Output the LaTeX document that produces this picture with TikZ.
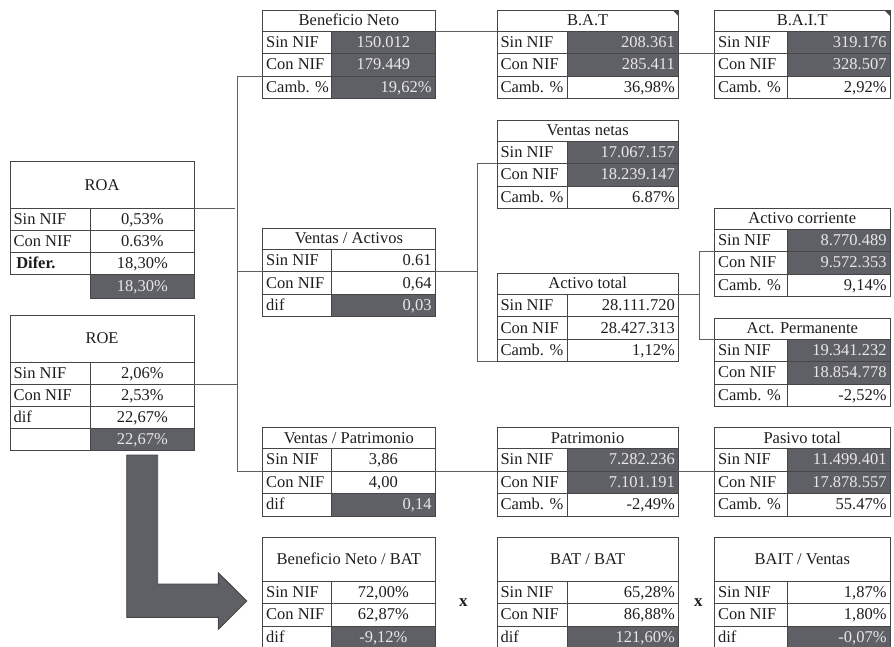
\documentclass[tikz,border=0pt]{standalone}
\usepackage{fontspec}
\setmainfont{Liberation Serif}
\usetikzlibrary{calc}
\definecolor{dk}{RGB}{95,96,101}
\definecolor{bordc}{RGB}{70,70,70}
\definecolor{txt}{RGB}{30,30,30}
\definecolor{lt}{RGB}{232,232,232}
\definecolor{lnc}{RGB}{95,95,95}
\def\Aa{262.7}\def\Ad{331.7}\def\Ab{435}
\def\Ba{497}\def\Bd{567}\def\Bb{678.3}
\def\Ca{714.5}\def\Cd{787}\def\Cb{890}
\newcommand\ttitle[6]{%
 \pgfmathsetmacro\tkzW{#3-#2}\pgfmathsetmacro\tkzT{#3-#2-7}%
 \node[tcell,ctr,minimum width=\tkzW pt,text width=\tkzT pt,minimum height=#5pt,anchor=north west] (#1) at (#2,#4) {#6};}
\newcommand\trow[9]{%
 \pgfmathsetmacro\tkzWa{#3-#2}\pgfmathsetmacro\tkzTa{#3-#2-7}%
 \pgfmathsetmacro\tkzWb{#4-#3}\pgfmathsetmacro\tkzTb{#4-#3-7}%
 \node[tcell,lft,minimum width=\tkzWa pt,text width=\tkzTa pt,minimum height=#6pt,anchor=north west] (#1l) at (#2,#5) {\mbox{#7}};
 \node[tcell,#8,minimum width=\tkzWb pt,text width=\tkzTb pt,minimum height=#6pt,anchor=north west] (#1v) at (#3,#5) {#9};}
\tikzset{
 tcell/.style={draw=bordc,line width=0.9pt,inner xsep=3.5pt,inner ysep=0pt,outer sep=0pt,text=txt,text height=12.5pt,text depth=2.5pt},
 lft/.style={align=flush left},
 rgt/.style={align=flush right},
 ctr/.style={align=flush center},
 dkr/.style={fill=dk,text=lt,align=flush right},
 dkc/.style={fill=dk,text=lt,align=flush center},
 conn/.style={draw=lnc,line width=0.9pt},
 bigarrow/.style={fill=dk,draw=bordc,line width=0.9pt},
 xmark/.style={font=\bfseries\fontsize{17}{20}\selectfont,text=txt}
}
\begin{document}
\begin{tikzpicture}[x=1pt,y=-1pt,font=\fontsize{16.5}{19}\selectfont]
\useasboundingbox (0,0) rectangle (894,646);
\clip (0,0) rectangle (894,646);
\fill[white] (0,0) rectangle (894,646);
% ROA
\ttitle{roat}{10}{194}{161.7}{46.6}{ROA}
\trow{roa1}{10}{90.7}{194}{208.3}{22}{Sin NIF}{ctr}{0,53\%}
\trow{roa2}{10}{90.7}{194}{230.3}{22}{Con NIF}{ctr}{0.63\%}
\trow{roa3}{10}{90.7}{194}{252.3}{22}{\textbf{\,Difer.}}{ctr}{18,30\%}
\node[tcell,dkc,minimum width=103.3pt,text width=96.3pt,minimum height=24.4pt,anchor=north west] (roa4v) at (90.7,274.3) {18,30\%};
% ROE
\ttitle{roet}{10}{194}{315.7}{46.3}{ROE}
\trow{roe1}{10}{90.7}{194}{362}{22}{Sin NIF}{ctr}{2,06\%}
\trow{roe2}{10}{90.7}{194}{384}{22}{Con NIF}{ctr}{2,53\%}
\trow{roe3}{10}{90.7}{194}{406}{22}{dif}{ctr}{22,67\%}
\trow{roe4}{10}{90.7}{194}{428}{22}{}{dkc}{22,67\%}
% Beneficio Neto
\ttitle{bnt}{\Aa}{\Ab}{10}{21}{Beneficio Neto}
\trow{bn1}{\Aa}{\Ad}{\Ab}{31}{22.5}{Sin NIF}{dkc}{150.012}
\trow{bn2}{\Aa}{\Ad}{\Ab}{53.5}{22.5}{Con NIF}{dkc}{179.449}
\trow{bn3}{\Aa}{\Ad}{\Ab}{76}{22.5}{Camb. \%}{dkr}{19,62\%}
% B.A.T
\ttitle{batt}{\Ba}{\Bb}{10}{21}{B.A.T}
\trow{bat1}{\Ba}{\Bd}{\Bb}{31}{22.5}{Sin NIF}{dkr}{208.361}
\trow{bat2}{\Ba}{\Bd}{\Bb}{53.5}{22.5}{Con NIF}{dkr}{285.411}
\trow{bat3}{\Ba}{\Bd}{\Bb}{76}{22.5}{Camb. \%}{rgt}{36,98\%}
% B.A.I.T
\ttitle{baitt}{\Ca}{\Cb}{10}{21}{B.A.I.T}
\trow{bait1}{\Ca}{\Cd}{\Cb}{31}{22.5}{Sin NIF}{dkr}{319.176}
\trow{bait2}{\Ca}{\Cd}{\Cb}{53.5}{22.5}{Con NIF}{dkr}{328.507}
\trow{bait3}{\Ca}{\Cd}{\Cb}{76}{22.5}{Camb. \%}{rgt}{2,92\%}
% Ventas netas
\ttitle{vnt}{\Ba}{\Bb}{120}{21}{Ventas netas}
\trow{vn1}{\Ba}{\Bd}{\Bb}{141}{22.5}{Sin NIF}{dkr}{17.067.157}
\trow{vn2}{\Ba}{\Bd}{\Bb}{163.5}{22.5}{Con NIF}{dkr}{18.239.147}
\trow{vn3}{\Ba}{\Bd}{\Bb}{186}{22.5}{Camb. \%}{rgt}{6.87\%}
% Ventas / Activos
\ttitle{vat}{\Aa}{\Ab}{228.3}{21}{Ventas / Activos}
\trow{va1}{\Aa}{\Ad}{\Ab}{249.3}{22.5}{Sin NIF}{rgt}{0.61}
\trow{va2}{\Aa}{\Ad}{\Ab}{271.8}{22.5}{Con NIF}{rgt}{0,64}
\trow{va3}{\Aa}{\Ad}{\Ab}{294.3}{22.5}{dif}{dkr}{0,03}
% Activo total
\ttitle{att}{\Ba}{\Bb}{273.3}{21}{Activo total}
\trow{at1}{\Ba}{\Bd}{\Bb}{294.3}{22.5}{Sin NIF}{rgt}{28.111.720}
\trow{at2}{\Ba}{\Bd}{\Bb}{316.8}{22.5}{Con NIF}{rgt}{28.427.313}
\trow{at3}{\Ba}{\Bd}{\Bb}{339.3}{22.5}{Camb. \%}{rgt}{1,12\%}
% Activo corriente
\ttitle{act}{\Ca}{\Cb}{208}{21}{Activo corriente}
\trow{ac1}{\Ca}{\Cd}{\Cb}{229}{22.5}{Sin NIF}{dkr}{8.770.489}
\trow{ac2}{\Ca}{\Cd}{\Cb}{251.5}{22.5}{Con NIF}{dkr}{9.572.353}
\trow{ac3}{\Ca}{\Cd}{\Cb}{274}{22.5}{Camb. \%}{rgt}{9,14\%}
% Act. Permanente
\ttitle{apt}{\Ca}{\Cb}{318}{21}{Act. Permanente}
\trow{ap1}{\Ca}{\Cd}{\Cb}{339}{22.5}{Sin NIF}{dkr}{19.341.232}
\trow{ap2}{\Ca}{\Cd}{\Cb}{361.5}{22.5}{Con NIF}{dkr}{18.854.778}
\trow{ap3}{\Ca}{\Cd}{\Cb}{384}{22.5}{Camb. \%}{rgt}{-2,52\%}
% Ventas / Patrimonio
\ttitle{vpt}{\Aa}{\Ab}{427.5}{21}{Ventas / Patrimonio}
\trow{vp1}{\Aa}{\Ad}{\Ab}{448.5}{22.5}{Sin NIF}{ctr}{3,86}
\trow{vp2}{\Aa}{\Ad}{\Ab}{471}{22.5}{Con NIF}{ctr}{4,00}
\trow{vp3}{\Aa}{\Ad}{\Ab}{493.5}{22.5}{dif}{dkr}{0,14}
% Patrimonio
\ttitle{pat}{\Ba}{\Bb}{427.5}{21}{Patrimonio}
\trow{pa1}{\Ba}{\Bd}{\Bb}{448.5}{22.5}{Sin NIF}{dkr}{7.282.236}
\trow{pa2}{\Ba}{\Bd}{\Bb}{471}{22.5}{Con NIF}{dkr}{7.101.191}
\trow{pa3}{\Ba}{\Bd}{\Bb}{493.5}{22.5}{Camb. \%}{rgt}{-2,49\%}
% Pasivo total
\ttitle{ptt}{\Ca}{\Cb}{427.5}{21}{Pasivo total}
\trow{pt1}{\Ca}{\Cd}{\Cb}{448.5}{22.5}{Sin NIF}{dkr}{11.499.401}
\trow{pt2}{\Ca}{\Cd}{\Cb}{471}{22.5}{Con NIF}{dkr}{17.878.557}
\trow{pt3}{\Ca}{\Cd}{\Cb}{493.5}{22.5}{Camb. \%}{rgt}{55.47\%}
% Beneficio Neto / BAT
\ttitle{bbt}{\Aa}{\Ab}{537}{44}{Beneficio Neto / BAT}
\trow{bb1}{\Aa}{\Ad}{\Ab}{581}{22.5}{Sin NIF}{ctr}{72,00\%}
\trow{bb2}{\Aa}{\Ad}{\Ab}{603.5}{22.5}{Con NIF}{ctr}{62,87\%}
\trow{bb3}{\Aa}{\Ad}{\Ab}{626}{22.5}{dif}{dkc}{-9,12\%}
% BAT / BAT
\ttitle{bbbt}{\Ba}{\Bb}{537}{44}{BAT / BAT}
\trow{bbb1}{\Ba}{\Bd}{\Bb}{581}{22.5}{Sin NIF}{rgt}{65,28\%}
\trow{bbb2}{\Ba}{\Bd}{\Bb}{603.5}{22.5}{Con NIF}{rgt}{86,88\%}
\trow{bbb3}{\Ba}{\Bd}{\Bb}{626}{22.5}{dif}{dkr}{121,60\%}
% BAIT / Ventas
\ttitle{bvt}{\Ca}{\Cb}{537}{44}{BAIT / Ventas}
\trow{bv1}{\Ca}{\Cd}{\Cb}{581}{22.5}{Sin NIF}{rgt}{1,87\%}
\trow{bv2}{\Ca}{\Cd}{\Cb}{603.5}{22.5}{Con NIF}{rgt}{1,80\%}
\trow{bv3}{\Ca}{\Cd}{\Cb}{626}{22.5}{dif}{dkr}{-0,07\%}
% multiplication marks
\node[xmark] (x1) at (463.3,603) {x};
\node[xmark] (x2) at (698.3,603) {x};
% corner markers
\fill[bordc] (batt.north east) -- ++(-6,0) -- ++(6,6) -- cycle;
\fill[bordc] (baitt.north east) -- ++(-6,0) -- ++(6,6) -- cycle;
% connectors
\coordinate (tk) at (237.7,0);
\coordinate (tkb) at (477.5,0);
\coordinate (tkc) at (699,0);
\coordinate (roaend) at ($(roat.south east)+(41,0)$);
\draw[conn] (roat.south east) -- (roaend);
\draw[conn] (roe2v.north east) -- (tk |- roe2v.north east);
\draw[conn] (bn3l.north west) -- (tk |- bn3l.north west) -- (tk |- vp2l.north west) -- (vp2l.north west);
\draw[conn] (tk |- va2l.north west) -- (va2l.north west);
\draw[conn] (bnt.south east) -- (batt.south west);
\draw[conn] (bat2v.north east) -- (bait2l.north west);
\draw[conn] (va2v.north east) -- (tkb |- va2v.north east);
\draw[conn] (vn2l.north west) -- (tkb |- vn2l.north west) -- (tkb |- at3l.south west) -- (at3l.south west);
\draw[conn] (att.south east) -- (tkc |- att.south east);
\draw[conn] (ac2l.north west) -- (tkc |- ac2l.north west) -- (tkc |- apt.south west) -- (apt.south west);
\draw[conn] (vp2v.north east) -- (pa2l.north west);
\draw[conn] (pa2v.north east) -- (pt2l.north west);
% big arrow
\draw[bigarrow] (126.7,455) -- (157.7,455) -- (157.7,584) -- (218.3,584) -- (218.3,572.7)
  -- (246.7,601) -- (218.3,629.3) -- (218.3,617.3) -- (126.7,617.3) -- cycle;
\end{tikzpicture}
\end{document}
